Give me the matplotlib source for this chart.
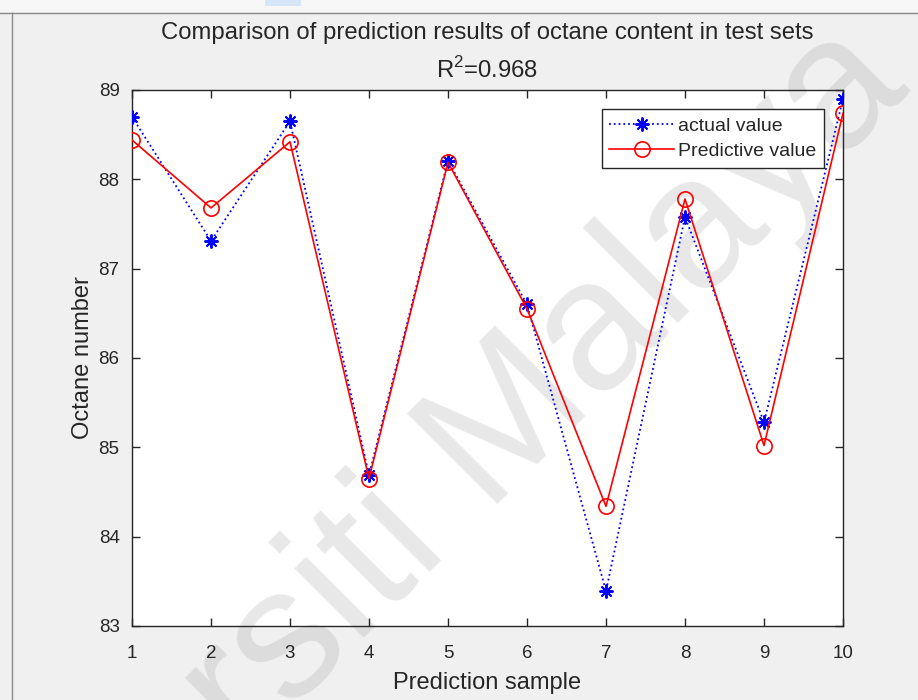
import matplotlib
matplotlib.use("Agg")
import matplotlib.pyplot as plt
from matplotlib.lines import Line2D
from matplotlib.patches import Rectangle

# ---- data ----
samples = [1, 2, 3, 4, 5, 6, 7, 8, 9, 10]
actual_value = [88.70, 87.31, 88.65, 84.69, 88.21, 86.60, 83.39, 87.58, 85.28, 88.90]
predictive_value = [88.44, 87.68, 88.42, 84.65, 88.19, 86.55, 84.34, 87.78, 85.02, 88.74]
x_ticks = [1, 2, 3, 4, 5, 6, 7, 8, 9, 10]
y_ticks = [83, 84, 85, 86, 87, 88, 89]
title_line1 = "Comparison of prediction results of octane content in test sets"
title_line2 = "R$^2$=0.968"
x_label = "Prediction sample"
y_label = "Octane number"
legend_labels = ["actual value", "Predictive value"]
watermark = "Universiti Malaya"

plt.rcParams['font.family'] = ['Liberation Sans', 'DejaVu Sans']
plt.rcParams['mathtext.fontset'] = 'custom'
plt.rcParams['mathtext.rm'] = 'Liberation Sans'

W, H = 918, 700
fig = plt.figure(figsize=(W / 100, H / 100), dpi=100)
fig.patch.set_facecolor('#f0f0f0')

# screenshot chrome
fig.add_artist(Rectangle((0, 1 - 12 / H), 1, 12 / H, transform=fig.transFigure,
                         facecolor='#f7f7f7', edgecolor='none', zorder=0))
fig.add_artist(Line2D([0, 1], [1 - 12.5 / H, 1 - 12.5 / H], transform=fig.transFigure,
                      color='#8a8a8a', lw=1.0))
fig.add_artist(Line2D([12 / W, 12 / W], [0, 1 - 12.5 / H], transform=fig.transFigure,
                      color='#8a8a8a', lw=1.0))
fig.add_artist(Rectangle((265 / W, 1 - 6 / H), 36 / W, 6 / H, transform=fig.transFigure,
                         facecolor='#d5e6f7', edgecolor='none'))

left, right, top, bottom = 132, 843, 90, 626
ax = fig.add_axes([left / W, 1 - bottom / H, (right - left) / W, (bottom - top) / H])
ax.set_facecolor('white')

dark = '#262626'
ax.plot(samples, actual_value, linestyle=':', color='#0000ff', lw=1.3,
        marker=(8, 2, 0), markersize=10, markeredgewidth=1.4,
        markeredgecolor='#0000ff', label=legend_labels[0], zorder=3)
ax.plot(samples, predictive_value, linestyle='-', color='#ff0000', lw=1.2,
        marker='o', markersize=11, markerfacecolor='none', markeredgewidth=1.2,
        markeredgecolor='#ff0000', label=legend_labels[1], zorder=3)

ax.set_xlim(1, 10)
ax.set_ylim(83, 89)
ax.set_xticks(x_ticks)
ax.set_yticks(y_ticks)
ax.tick_params(direction='in', length=6, width=1, colors=dark, labelsize=13.5,
               top=True, right=True, pad=9)
ax.tick_params(axis='x', pad=14)
for s in ax.spines.values():
    s.set_color(dark)
    s.set_linewidth(1.0)

ax.set_xlabel(x_label, fontsize=17, color=dark, labelpad=7)
ax.set_ylabel(y_label, fontsize=17, color=dark, labelpad=3)

fig.text((left + right) / 2 / W, 1 - 33 / H, title_line1, ha='center', va='center',
         fontsize=17.2, color=dark)
fig.text((left + right) / 2 / W, 1 - 70 / H, title_line2, ha='center', va='center',
         fontsize=17.2, color=dark)

leg = ax.legend(loc='upper right', fontsize=14, frameon=True, fancybox=False,
                edgecolor=dark, framealpha=1, handlelength=3.3, borderaxespad=1.0,
                handletextpad=0.2, borderpad=0.4, labelspacing=0.4)
leg.get_frame().set_linewidth(1.0)
for t in leg.get_texts():
    t.set_color(dark)
leg.set_zorder(5)

# watermark under the data lines
ax.text(912 / W, 1 - 90 / H, watermark, transform=fig.transFigure, rotation=45,
        rotation_mode='anchor', ha='right', va='baseline', fontsize=134,
        color='#8c8c8c', alpha=0.2, clip_on=False, zorder=1)

fig.savefig('out.png', dpi=100, facecolor=fig.get_facecolor())
